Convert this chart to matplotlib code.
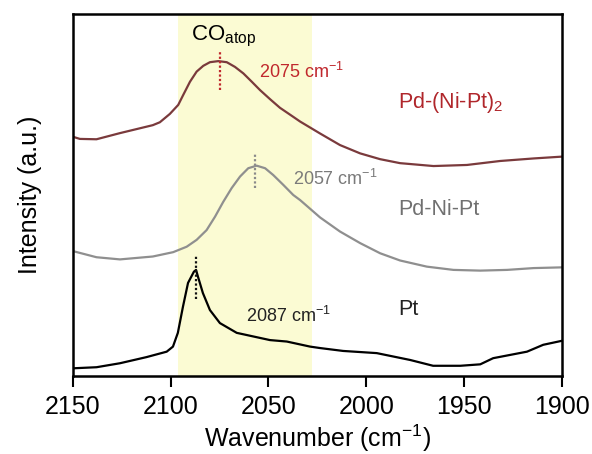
import matplotlib
matplotlib.use("Agg")
import matplotlib.pyplot as plt

plt.rcParams["font.family"] = ["Liberation Sans", "DejaVu Sans"]
plt.rcParams["mathtext.fontset"] = "custom"
plt.rcParams["mathtext.rm"] = "Liberation Sans"
plt.rcParams["mathtext.it"] = "Liberation Sans:italic"

# spectra (wavenumber in cm-1, intensity in a.u.)
wn_pdnipt2 = [2150, 2146.4, 2137.9, 2125.9, 2109.1, 2105.5, 2100.4, 2096.1, 2093.6,
              2090.1, 2086.7, 2083.3, 2079.9, 2075.6, 2071.3, 2067.1, 2062.8,
              2058.5, 2054.3, 2049.2, 2044.1, 2037.3, 2033.8, 2023.6, 2013.4,
              2003.1, 1992.9, 1982.7, 1965.6, 1948.5, 1931.5, 1914.4, 1900]
int_pdnipt2 = [0.661, 0.655, 0.654, 0.671, 0.693, 0.701, 0.724, 0.749, 0.776,
               0.813, 0.841, 0.857, 0.867, 0.870, 0.867, 0.854, 0.836,
               0.813, 0.790, 0.765, 0.741, 0.716, 0.703, 0.670, 0.638,
               0.615, 0.599, 0.588, 0.580, 0.583, 0.594, 0.601, 0.606]

wn_pdnipt = [2150, 2137.9, 2125.9, 2109.1, 2098.7, 2091.8, 2086.7, 2081.6, 2077.3,
             2073.1, 2068.8, 2064.5, 2060.3, 2056.0, 2051.7, 2047.5, 2042.4,
             2037.3, 2033.8, 2023.6, 2013.4, 2003.1, 1992.9, 1982.7, 1969.0,
             1955.4, 1941.7, 1928.0, 1914.4, 1900]
int_pdnipt = [0.345, 0.328, 0.322, 0.330, 0.342, 0.357, 0.376, 0.403, 0.440,
              0.481, 0.519, 0.551, 0.574, 0.581, 0.574, 0.555, 0.528,
              0.500, 0.486, 0.438, 0.399, 0.367, 0.339, 0.319, 0.302,
              0.293, 0.291, 0.293, 0.298, 0.300]

wn_pt = [2150, 2137.9, 2125.9, 2112.3, 2102.0, 2098.8, 2096.3, 2093.7, 2091.1,
         2088.1, 2087.0, 2086.0, 2083.5, 2079.9, 2074.8, 2066.2, 2049.2, 2040.6,
         2028.7, 2023.6, 2011.8, 1994.6, 1977.5, 1965.8, 1951.9, 1941.7, 1935.1,
         1917.8, 1909.5, 1900]
int_pt = [0.021, 0.024, 0.035, 0.052, 0.067, 0.081, 0.119, 0.191, 0.257,
          0.288, 0.293, 0.274, 0.229, 0.182, 0.146, 0.119, 0.099, 0.095,
          0.081, 0.077, 0.069, 0.063, 0.044, 0.028, 0.028, 0.032, 0.049,
          0.067, 0.086, 0.097]

# peak positions and the extent of their dotted markers
peaks = [2075, 2057, 2087]
peak_lo = [0.790, 0.518, 0.212]
peak_hi = [0.896, 0.615, 0.331]
peak_colors = ["#c0282d", "#8a8a8a", "#111111"]

band = (2096.3, 2027.8)  # CO atop region

fig = plt.figure(figsize=(5.92, 4.54), dpi=100)
ax = fig.add_axes([0.123, 0.172, 0.826, 0.797])

ax.axvspan(band[0], band[1], color="#fbfbd3", zorder=0, lw=0)

ax.plot(wn_pdnipt2, int_pdnipt2, color="#7a3a3c", lw=1.6)
ax.plot(wn_pdnipt, int_pdnipt, color="#8f8f8f", lw=1.6)
ax.plot(wn_pt, int_pt, color="#000000", lw=1.6)

for p, lo, hi, c in zip(peaks, peak_lo, peak_hi, peak_colors):
    ax.plot([p, p], [lo, hi], color=c, lw=1.6, ls=(0, (1, 1)))

ax.set_xlim(2150, 1900)
ax.set_ylim(0, 1)
ax.set_xticks([2150, 2100, 2050, 2000, 1950, 1900])
ax.set_yticks([])
ax.tick_params(axis="x", direction="out", length=8, width=1.5, labelsize=18, pad=6)
for s in ax.spines.values():
    s.set_linewidth(1.8)

ax.set_xlabel("Wavenumber (cm$^{-1}$)", fontsize=18, labelpad=2)
ax.set_ylabel("Intensity (a.u.)", fontsize=18, labelpad=22)

ax.text(2073, 0.928, "CO$_{\\mathrm{atop}}$", fontsize=16, ha="center", va="baseline")
ax.text(2054.8, 0.822, "2075 cm$^{-1}$", fontsize=13, color="#c0282d", va="baseline")
ax.text(2037.6, 0.528, "2057 cm$^{-1}$", fontsize=13, color="#7a7a7a", va="baseline")
ax.text(2061.6, 0.150, "2087 cm$^{-1}$", fontsize=13, color="#222222", va="baseline")
ax.text(1983.7, 0.740, "Pd-(Ni-Pt)$_2$", fontsize=15.5, color="#b0262b", va="baseline")
ax.text(1983.7, 0.445, "Pd-Ni-Pt", fontsize=15.5, color="#707070", va="baseline")
ax.text(1983.7, 0.169, "Pt", fontsize=15.5, color="#222222", va="baseline")

fig.savefig("out.png", dpi=100)
